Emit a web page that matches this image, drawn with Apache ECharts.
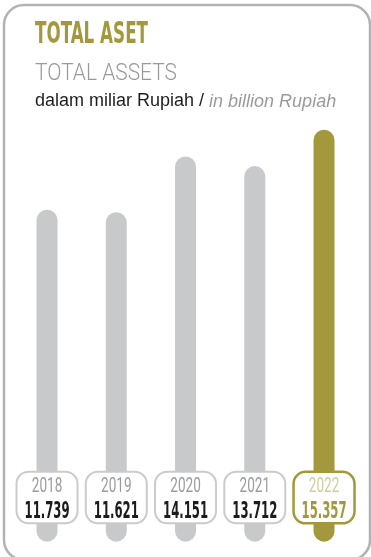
<!DOCTYPE html>
<html>
<head>
<meta charset="utf-8">
<script src="https://cdn.jsdelivr.net/npm/echarts@6/dist/echarts.min.js"></script>
<style>
  html, body { margin: 0; padding: 0; background: #fff; }
  #chart { width: 371px; height: 557px; }
</style>
</head>
<body>
<div id="chart"></div>
<script>
// Total assets, in billion Rupiah
const years = ['2018', '2019', '2020', '2021', '2022'];
const totalAssets = [11739, 11621, 14151, 13712, 15357];
const valueLabels = ['11.739', '11.621', '14.151', '13.712', '15.357'];

const AXIS_MIN = -3300;
const AXIS_MAX = 15800;
const GOLD = '#a3993c';
const GREY_BAR = '#c8c9cb';
const COND = '"DejaVu Sans Condensed", "DejaVu Sans", sans-serif';
const PLAIN = 'Roboto, "Liberation Sans", sans-serif';

// horizontal squeeze factor so a string occupies a given width
const measureCtx = document.createElement('canvas').getContext('2d');
function squeeze(text, font, width) {
  measureCtx.font = font;
  return width / measureCtx.measureText(text).width;
}

const YEAR_FONT = '400 20px ' + PLAIN;
const VALUE_FONT = '700 23px ' + COND;
const TITLE_FONT = '700 30px ' + COND;
const SUB_FONT = '300 23px ' + PLAIN;

const chart = echarts.init(document.getElementById('chart'), null, { renderer: 'canvas' });

function renderPill(params, api) {
  const idx = params.dataIndex;
  const i = api.value(0);
  const v = api.value(1);
  const top = api.coord([i, v]);
  const base = api.coord([i, AXIS_MIN]);
  const cx = top[0];
  const latest = idx === years.length - 1;
  const barW = 21;
  const boxW = 61, boxH = 51.5;
  const boxBottom = base[1] - 18.4;
  const boxTop = boxBottom - boxH;
  return {
    type: 'group',
    children: [
      {
        type: 'rect',
        shape: { x: cx - barW / 2, y: top[1], width: barW, height: base[1] - top[1], r: barW / 2 },
        style: { fill: latest ? GOLD : GREY_BAR }
      },
      {
        type: 'rect',
        shape: { x: cx - boxW / 2, y: boxTop, width: boxW, height: boxH, r: 12 },
        style: { fill: '#fff', stroke: latest ? GOLD : '#cbcbcb', lineWidth: latest ? 2.5 : 2 }
      },
      {
        type: 'text',
        x: cx, y: boxTop + 15,
        scaleX: squeeze(years[idx], YEAR_FONT, 30.5),
        style: {
          text: years[idx], x: 0, y: 0,
          font: YEAR_FONT,
          fill: latest ? '#d2cd98' : '#9c9c9c',
          align: 'center', verticalAlign: 'middle'
        }
      },
      {
        type: 'text',
        x: cx, y: boxTop + 40,
        scaleX: squeeze(valueLabels[idx], VALUE_FONT, 45),
        style: {
          text: valueLabels[idx], x: 0, y: 0,
          font: VALUE_FONT,
          fill: latest ? GOLD : '#1c1c1c',
          align: 'center', verticalAlign: 'middle'
        }
      }
    ]
  };
}

chart.setOption({
  animation: false,
  grid: { left: 12.4, right: 12.35, top: 120, bottom: 15.3 },
  xAxis: { type: 'category', data: years, show: false },
  yAxis: { type: 'value', min: AXIS_MIN, max: AXIS_MAX, show: false },
  graphic: [
    {
      type: 'rect', z: -1,
      shape: { x: 4, y: 5, width: 366, height: 555, r: 20 },
      style: { fill: 'none', stroke: '#b2b2b2', lineWidth: 2.5 }
    },
    {
      type: 'text', x: 35, y: 35, scaleX: squeeze('TOTAL ASET', TITLE_FONT, 113),
      style: {
        text: 'TOTAL ASET', x: 0, y: 0,
        font: TITLE_FONT, fill: GOLD,
        align: 'left', verticalAlign: 'middle'
      }
    },
    {
      type: 'text', x: 35, y: 74, scaleX: squeeze('TOTAL ASSETS', SUB_FONT, 142),
      style: {
        text: 'TOTAL ASSETS', x: 0, y: 0,
        font: SUB_FONT, fill: '#9a9a9a',
        align: 'left', verticalAlign: 'middle'
      }
    },
    {
      type: 'text', x: 35, y: 101.5,
      style: {
        text: '{a|dalam miliar Rupiah / }{b|in billion Rupiah}', x: 0, y: 0,
        align: 'left', verticalAlign: 'middle',
        rich: {
          a: { font: '400 18px "Liberation Sans", Arial, sans-serif', fill: '#1e1e1e' },
          b: { font: 'italic 400 18px "Liberation Sans", Arial, sans-serif', fill: '#9a9a9a' }
        }
      }
    }
  ],
  series: [
    {
      type: 'custom',
      renderItem: renderPill,
      encode: { x: 0, y: 1 },
      data: totalAssets.map((v, i) => [i, v])
    }
  ]
});
</script>
</body>
</html>
